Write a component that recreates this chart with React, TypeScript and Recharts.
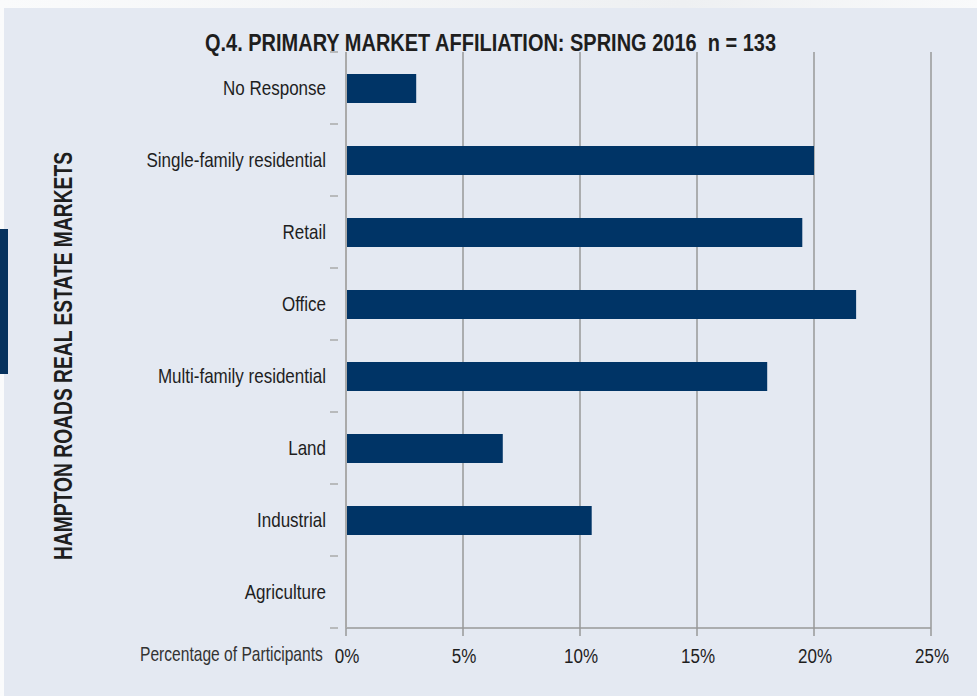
import React from 'react';
import { Bar, BarChart, CartesianGrid, XAxis, YAxis } from 'recharts';

const categories = [
  'No Response',
  'Single-family residential',
  'Retail',
  'Office',
  'Multi-family residential',
  'Land',
  'Industrial',
  'Agriculture',
];
const percents = [3.0, 20.0, 19.5, 21.8, 18.0, 6.7, 10.5, 0];
const xTicks = [0, 5, 10, 15, 20, 25];

const data = categories.map((name, i) => ({ name, value: percents[i] }));

const FONT = "'Liberation Sans', Arial, sans-serif";
const NARROW = 0.81;
const BAND = 72;

const CategoryTick = (props: any) => {
  const { x, y, payload, index } = props;
  return (
    <g>
      <text
        transform={`translate(${x - 12},${y + 7}) scale(${NARROW},1)`}
        textAnchor='end'
        fontFamily={FONT}
        fontSize={21}
        fill='#1e1e1e'>
        {payload.value}
      </text>
      {index === 0 && <line x1={x - 8} x2={x} y1={y - BAND / 2} y2={y - BAND / 2} stroke='#aaa' strokeWidth={1.5} />}
      <line x1={x - 8} x2={x} y1={y + BAND / 2} y2={y + BAND / 2} stroke='#aaa' strokeWidth={1.5} />
    </g>
  );
};

const PercentTick = (props: any) => {
  const { x, y, payload } = props;
  return (
    <text
      transform={`translate(${x + 1},${y + 25}) scale(${NARROW},1)`}
      textAnchor='middle'
      fontFamily={FONT}
      fontSize={21}
      fill='#1e1e1e'>
      {`${payload.value}%`}
    </text>
  );
};

export default function App() {
  return (
    <div
      style={{
        position: 'absolute',
        left: 0,
        top: 0,
        width: 977,
        height: 696,
        background: 'linear-gradient(90deg, #fafbfc, #eef0f2 70%, #f9fafb)',
        overflow: 'hidden',
      }}>
      <div style={{ position: 'absolute', left: 4, top: 8, right: 0, bottom: 0, background: '#e4e9f2' }} />
      <div style={{ position: 'absolute', left: 0, top: 229, width: 8, height: 145, background: '#06325e' }} />
      <div style={{ position: 'absolute', left: 0, top: 0 }}>
        <BarChart
          width={977}
          height={696}
          data={data}
          layout='vertical'
          margin={{ top: 52, right: 46, bottom: 0, left: 46 }}>
          <CartesianGrid horizontal={false} stroke='#999' strokeWidth={1.5} />
          <XAxis
            type='number'
            domain={[0, 25]}
            ticks={xTicks}
            height={68}
            tickSize={8}
            stroke='#999'
            strokeWidth={1.5}
            tick={<PercentTick />}
          />
          <YAxis
            type='category'
            dataKey='name'
            width={300}
            tickLine={false}
            stroke='#aaa'
            strokeWidth={2}
            tick={<CategoryTick />}
            interval={0}
          />
          <Bar dataKey='value' fill='#003466' barSize={29} isAnimationActive={false} />
        </BarChart>
      </div>
      <svg width={977} height={696} style={{ position: 'absolute', left: 0, top: 0, pointerEvents: 'none' }}>
        <text
          x={205}
          y={51}
          textLength={571}
          lengthAdjust='spacingAndGlyphs'
          fontFamily={FONT}
          fontWeight='bold'
          fontSize={23}
          fill='#1e1e1e'
          style={{ whiteSpace: 'pre' }}>
          Q.4. PRIMARY MARKET AFFILIATION: SPRING 2016  n = 133
        </text>
        <text
          transform='translate(72,560) rotate(-90)'
          textLength={408}
          lengthAdjust='spacingAndGlyphs'
          fontFamily={FONT}
          fontWeight='bold'
          fontSize={26}
          fill='#1e1e1e'>
          HAMPTON ROADS REAL ESTATE MARKETS
        </text>
        <text
          transform='translate(140,661) scale(0.78,1)'
          fontFamily={FONT}
          fontSize={20}
          fill='#333'>
          Percentage of Participants
        </text>
      </svg>
    </div>
  );
}
